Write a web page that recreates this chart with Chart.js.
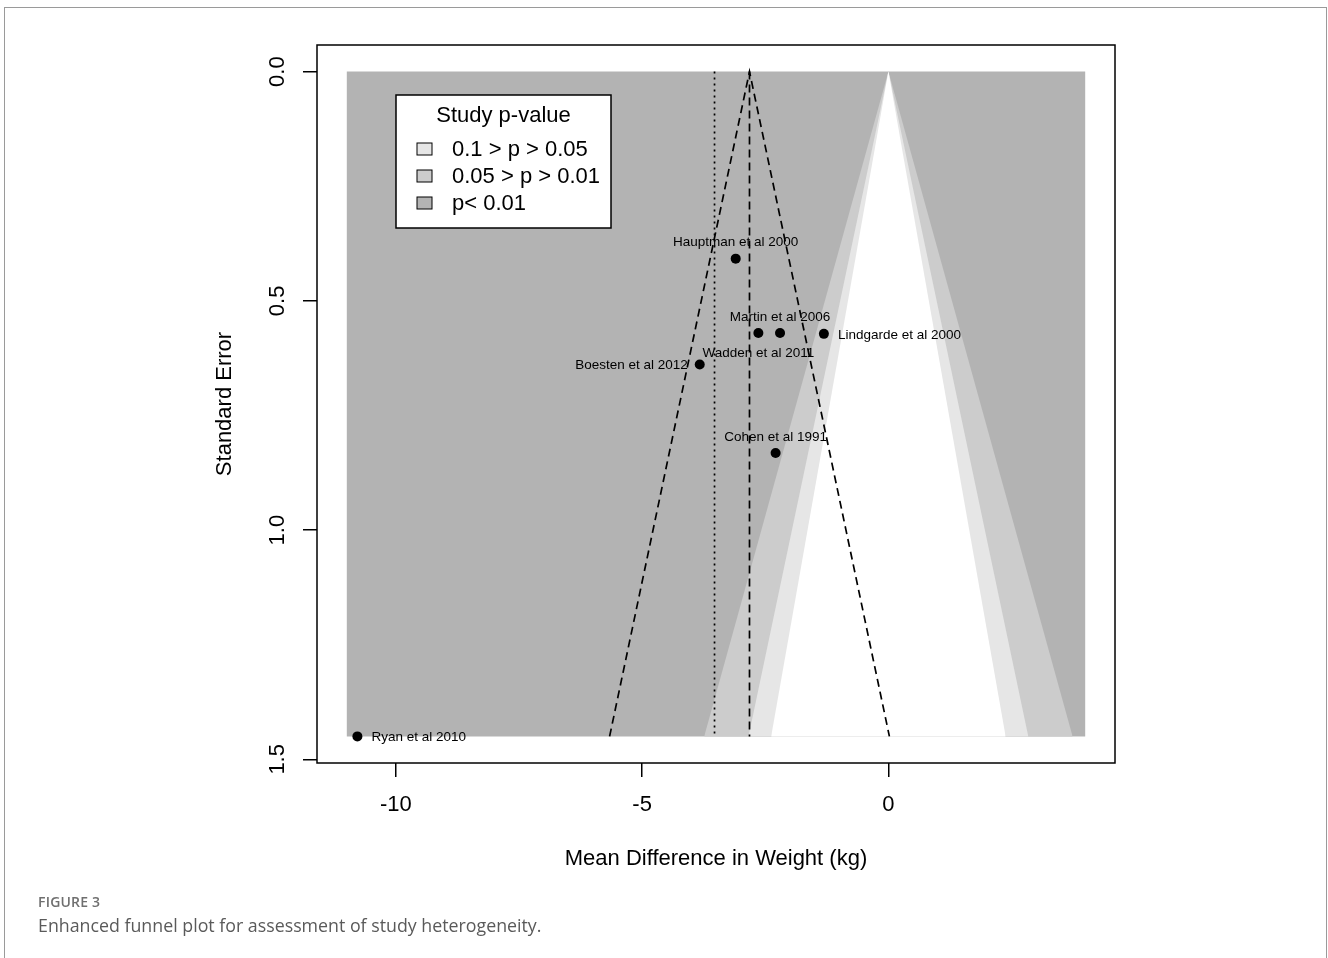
<!DOCTYPE html>
<html>
<head>
<meta charset="utf-8">
<title>Enhanced funnel plot</title>
<script src="https://cdn.jsdelivr.net/npm/chart.js@4.4.1/dist/chart.umd.min.js"></script>
<style>
  html, body { margin: 0; padding: 0; background: #fff; }
  body { width: 1328px; height: 958px; position: relative; overflow: hidden; }
  #frame { position: absolute; left: 4px; top: 7px; width: 1321px; height: 1000px; border: 1px solid #9a9a9a; }
  #chart { position: absolute; left: 0; top: 0; }
  .fig-label { position: absolute; left: 38px; top: 893px; font: 600 14px "Open Sans"; line-height: 18px; color: #6f6f6f; letter-spacing: 0.2px; }
  .fig-caption { position: absolute; left: 38px; top: 913px; font: 400 17.8px "Open Sans"; line-height: 24px; color: #5a5a5a; }
</style>
</head>
<body>
<div id="frame"></div>
<canvas id="chart" width="1328" height="958"></canvas>
<div class="fig-label">FIGURE 3</div>
<div class="fig-caption">Enhanced funnel plot for assessment of study heterogeneity.</div>

<script>
// study estimates
const studyNames = ["Hauptman et al 2000", "Martin et al 2006", "Lindgarde et al 2000", "Wadden et al 2011",
                    "Boesten et al 2012", "Cohen et al 1991", "Ryan et al 2010"];
const meanDiff = [-3.10, -2.20, -1.31, -2.64, -3.83, -2.29, -10.78];
const stdErr = [0.408, 0.570, 0.572, 0.570, 0.639, 0.832, 1.45];
const labelSide = ["above", "above", "right", "below", "left", "above", "right"];

const xTicks = [-10, -5, 0];
const yTicks = [0, 0.5, 1.0, 1.5];

// contour region (p = 0.01, 0.05, 0.10 half widths at the largest SE)
const seMax = 1.45;
const shadeRange = [-11, 4];
const contourWidths = [3.74, 2.84, 2.38];

// summary lines
const pooledMD = -2.82;
const funnelWidth = 2.84;
const otherMD = -3.53;

const legendTitle = "Study p-value";
const legendLabels = ["0.1 > p > 0.05", "0.05 > p > 0.01", "p< 0.01"];

const FONT = '"Liberation Sans", Arial, sans-serif';
const shadeColors = ["#cccccc", "#e6e6e6", "#ffffff"];
const legendColors = ["#e6e6e6", "#cccccc", "#b3b3b3"];

function triangle(hw) {
  return [{x: -hw, y: seMax}, {x: 0, y: 0}, {x: hw, y: seMax}];
}

const datasets = [
  {
    label: "studies",
    data: meanDiff.map((m, i) => ({x: m, y: stdErr[i]})),
    pointRadius: 5, pointBackgroundColor: "#000", pointBorderWidth: 0,
    showLine: false, order: 0
  },
  {
    data: [{x: pooledMD - funnelWidth, y: seMax}, {x: pooledMD, y: 0}, {x: pooledMD + funnelWidth, y: seMax}],
    showLine: true, borderColor: "#000", borderWidth: 1.7, borderDash: [8, 5], pointRadius: 0, fill: false, order: 1
  },
  {
    data: [{x: pooledMD, y: 0}, {x: pooledMD, y: seMax}],
    showLine: true, borderColor: "#000", borderWidth: 1.7, borderDash: [8, 5], pointRadius: 0, fill: false, order: 1
  },
  {
    data: [{x: otherMD, y: 0}, {x: otherMD, y: seMax}],
    showLine: true, borderColor: "#000", borderWidth: 1.7, borderDash: [2, 4], pointRadius: 0, fill: false, order: 1
  }
];
contourWidths.forEach((hw, i) => {
  datasets.push({
    data: triangle(hw), showLine: true, borderWidth: 0, pointRadius: 0,
    backgroundColor: shadeColors[i], fill: {value: seMax}, order: 4 - i
  });
});
datasets.push({
  data: [{x: shadeRange[0], y: 0}, {x: shadeRange[1], y: 0}],
  showLine: true, borderWidth: 0, pointRadius: 0,
  backgroundColor: "#b3b3b3", fill: {value: seMax}, order: 5
});

const overlay = {
  id: "overlay",
  afterDatasetsDraw(chart) {
    const ctx = chart.ctx;
    ctx.save();
    // study labels
    ctx.fillStyle = "#000";
    ctx.font = "13.5px " + FONT;
    chart.getDatasetMeta(0).data.forEach((pt, i) => {
      const side = labelSide[i];
      let x = pt.x, y = pt.y;
      ctx.textBaseline = "middle";
      if (side === "above") { ctx.textAlign = "center"; y -= 17; }
      else if (side === "below") { ctx.textAlign = "center"; y += 19; }
      else if (side === "right") { ctx.textAlign = "left"; x += 14; }
      else { ctx.textAlign = "right"; x -= 12; }
      ctx.fillText(studyNames[i], x, y + 1);
    });

    // legend
    const lx = 396, ly = 95, lw = 215, lh = 133;
    ctx.fillStyle = "#fff";
    ctx.fillRect(lx, ly, lw, lh);
    ctx.strokeStyle = "#000";
    ctx.lineWidth = 1.5;
    ctx.strokeRect(lx, ly, lw, lh);
    ctx.fillStyle = "#000";
    ctx.font = "22px " + FONT;
    ctx.textAlign = "center";
    ctx.textBaseline = "middle";
    ctx.fillText(legendTitle, lx + lw / 2, ly + 21);
    legendLabels.forEach((lab, i) => {
      const ry = ly + 54 + i * 27;
      ctx.fillStyle = legendColors[i];
      ctx.fillRect(417, ry - 6, 15, 12);
      ctx.strokeStyle = "#000";
      ctx.lineWidth = 1;
      ctx.strokeRect(417, ry - 6, 15, 12);
      ctx.fillStyle = "#000";
      ctx.textAlign = "left";
      ctx.fillText(lab, 452, ry + 1);
    });
    ctx.restore();
  },
  afterDraw(chart) {
    const {ctx, chartArea: a} = chart;
    ctx.save();
    ctx.strokeStyle = "#000";
    ctx.lineWidth = 1.5;
    ctx.strokeRect(a.left, a.top, a.right - a.left, a.bottom - a.top);
    ctx.restore();
  }
};

const axisGrid = {drawOnChartArea: false, drawTicks: true, tickLength: 14, color: "#000", lineWidth: 1.5};

new Chart(document.getElementById("chart").getContext("2d"), {
  type: "scatter",
  data: {datasets: datasets},
  options: {
    responsive: false,
    devicePixelRatio: 1,
    animation: false,
    layout: {padding: {left: 200, right: 213, top: 45, bottom: 75}},
    plugins: {legend: {display: false}, tooltip: {enabled: false}},
    scales: {
      x: {
        type: "linear", min: -11.6, max: 4.6,
        afterBuildTicks: s => { s.ticks = xTicks.map(v => ({value: v})); },
        afterFit: s => { s.height = 120; },
        grid: axisGrid,
        border: {display: false},
        ticks: {color: "#000", font: {family: FONT, size: 22}, padding: 15, maxRotation: 0, callback: v => String(v)},
        title: {display: true, text: "Mean Difference in Weight (kg)", color: "#000",
                font: {family: FONT, size: 22}, padding: {top: 0, bottom: 11}}
      },
      y: {
        type: "linear", reverse: true, min: -0.058, max: 1.508,
        afterBuildTicks: s => { s.ticks = yTicks.map(v => ({value: v})); },
        afterFit: s => { s.width = 117; },
        grid: axisGrid,
        border: {display: false},
        ticks: {color: "#000", font: {family: FONT, size: 22}, padding: 10, minRotation: 90, maxRotation: 90,
                crossAlign: "center", callback: v => v.toFixed(1)},
        title: {display: true, text: "Standard Error", color: "#000",
                font: {family: FONT, size: 22}, padding: {top: 12, bottom: 0}}
      }
    }
  },
  plugins: [overlay]
});
</script>
</body>
</html>
